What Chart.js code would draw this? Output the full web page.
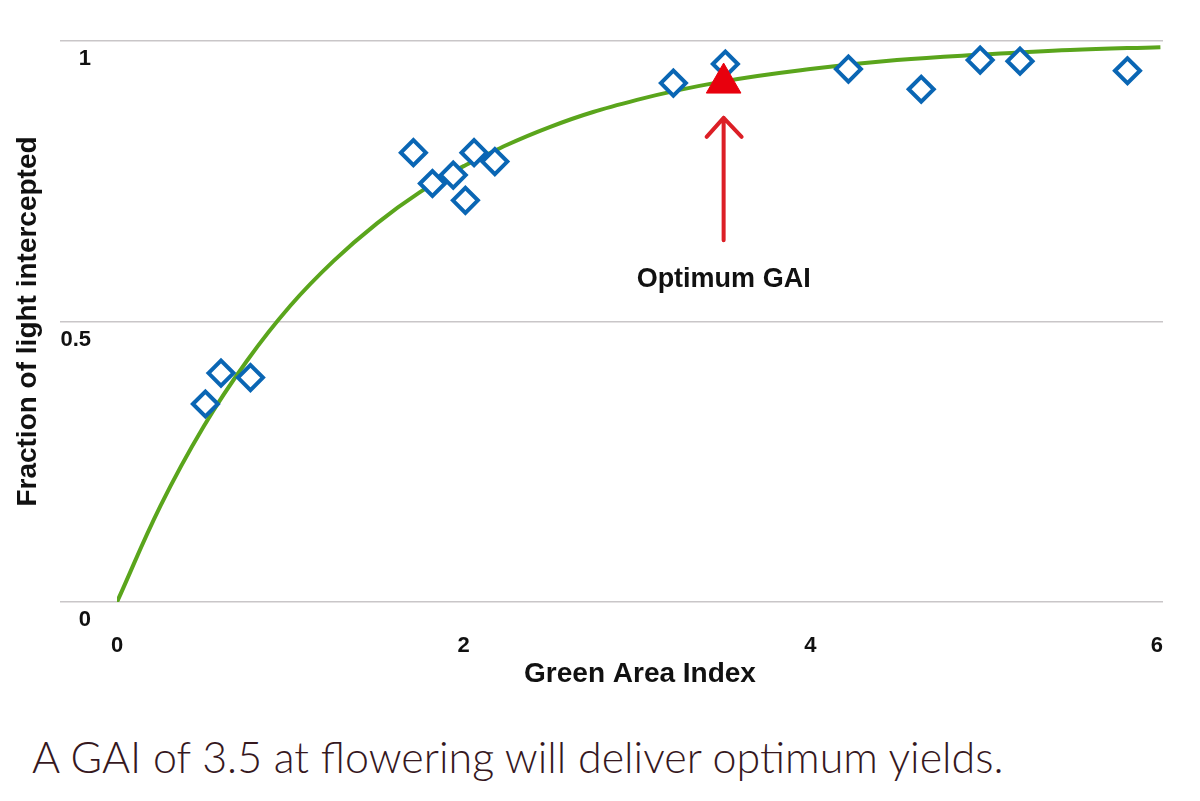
<!DOCTYPE html>
<html>
<head>
<meta charset="utf-8">
<script src="https://cdn.jsdelivr.net/npm/chart.js@4/dist/chart.umd.min.js"></script>
<style>
  html, body { margin: 0; padding: 0; background: #fff; }
  #wrap { position: relative; width: 1200px; height: 801px; overflow: hidden; }
  #box { position: absolute; left: 0; top: 0; width: 1200px; height: 720px; }
  #caption {
    position: absolute; left: 32px; top: 735px;
    font-family: Lato, "Open Sans", sans-serif; font-weight: 300;
    font-size: 43px; line-height: 43px; color: #36181e; white-space: nowrap;
  }
</style>
</head>
<body>
<div id="wrap">
  <div id="box"><canvas id="chart"></canvas></div>
  <div id="caption">A GAI of 3.5 at flowering will deliver optimum yields.</div>
</div>
<script>
// fitted curve
const curveX = [0, 0.25, 0.5, 0.75, 1, 1.25, 1.5, 1.75, 2, 2.5, 3, 3.5, 4, 4.5, 5, 5.5, 6.02];
const curveY = [0, 0.171, 0.313, 0.43, 0.528, 0.608, 0.675, 0.731, 0.777, 0.847, 0.895, 0.928, 0.95, 0.966, 0.976, 0.984, 0.989];

// measured points (diamonds)
const gaiX = [0.51, 0.60, 0.77, 1.71, 1.82, 1.94, 2.01, 2.06, 2.18, 3.21, 3.51, 4.22, 4.64, 4.98, 5.21, 5.83];
const fracY = [0.353, 0.408, 0.40, 0.801, 0.746, 0.761, 0.716, 0.801, 0.785, 0.925, 0.959, 0.950, 0.914, 0.966, 0.964, 0.947];

// optimum marker and arrow
const optX = 3.5;
const optY = 0.925;
const arrowFrom = 0.645;
const arrowTo = 0.863;
const optLabel = "Optimum GAI";
const optLabelY = 0.574;

const xTicks = [0, 2, 4, 6];
const yTicks = [0, 0.5, 1];

const tickFont = { family: "'Liberation Sans', Arial, sans-serif", size: 22, weight: "bold" };

const arrowPlugin = {
  id: "optArrow",
  afterDatasetsDraw(chart) {
    const ctx = chart.ctx;
    const xs = chart.scales.x, ys = chart.scales.y;
    const px = xs.getPixelForValue(optX);
    const y1 = ys.getPixelForValue(arrowFrom);
    const y2 = ys.getPixelForValue(arrowTo);
    ctx.save();
    ctx.strokeStyle = "#dc1f26";
    ctx.lineWidth = 4;
    ctx.lineCap = "round";
    ctx.lineJoin = "round";
    ctx.beginPath();
    ctx.moveTo(px, y1);
    ctx.lineTo(px, y2);
    ctx.moveTo(px - 17, y2 + 19);
    ctx.lineTo(px, y2);
    ctx.lineTo(px + 18, y2 + 19);
    ctx.stroke();
    ctx.fillStyle = "#111";
    ctx.font = "bold 27px 'Liberation Sans', Arial, sans-serif";
    ctx.textAlign = "center";
    ctx.textBaseline = "middle";
    ctx.fillText(optLabel, px, ys.getPixelForValue(optLabelY));
    ctx.restore();
  }
};

new Chart(document.getElementById("chart").getContext("2d"), {
  type: "scatter",
  data: {
    datasets: [
      {
        label: "Optimum",
        data: [{ x: optX, y: optY }],
        pointStyle: "triangle",
        pointRadius: 20,
        pointBackgroundColor: "#e8000d",
        pointBorderColor: "#e8000d",
        pointBorderWidth: 1,
        order: 0
      },
      {
        label: "Measured",
        data: gaiX.map((x, i) => ({ x: x, y: fracY[i] })),
        pointStyle: "rectRot",
        pointRadius: 12.5,
        pointBackgroundColor: "#ffffff",
        pointBorderColor: "#0a66b4",
        pointBorderWidth: 4,
        order: 1
      },
      {
        label: "Fit",
        data: curveX.map((x, i) => ({ x: x, y: curveY[i] })),
        showLine: true,
        borderColor: "#5aa51c",
        borderWidth: 4,
        pointRadius: 0,
        tension: 0.4,
        order: 2
      }
    ]
  },
  options: {
    responsive: true,
    maintainAspectRatio: false,
    animation: false,
    layout: { padding: { top: 41, right: 37, bottom: 0, left: 0 } },
    plugins: {
      legend: { display: false },
      tooltip: { enabled: false }
    },
    elements: { point: { hoverRadius: 0 } },
    scales: {
      x: {
        type: "linear",
        min: 0,
        max: 6.035,
        afterBuildTicks: function(scale) {
          scale.ticks = xTicks.map(v => ({ value: v }));
        },
        afterFit: function(scale) { scale.height = 118; },
        grid: { display: false, drawTicks: false },
        border: { display: false },
        ticks: { font: tickFont, color: "#111", padding: 31, maxRotation: 0 },
        title: {
          display: true,
          text: "Green Area Index",
          color: "#111",
          font: { family: "'Liberation Sans', Arial, sans-serif", size: 28, weight: "bold" },
          padding: { top: 0, bottom: 29 }
        }
      },
      y: {
        type: "linear",
        min: 0,
        max: 1,
        afterBuildTicks: function(scale) {
          scale.ticks = yTicks.map(v => ({ value: v }));
        },
        afterFit: function(scale) { scale.width = 117; },
        grid: { color: "#c9c6c8", lineWidth: 1.5, drawTicks: true, tickLength: 57 },
        border: { display: false },
        ticks: {
          font: tickFont,
          color: "#111",
          padding: -31,
          labelOffset: 18,
          crossAlign: "near",
          callback: v => String(v)
        },
        title: {
          display: true,
          text: "Fraction of light intercepted",
          color: "#111",
          font: { family: "'Liberation Sans', Arial, sans-serif", size: 28, weight: "bold" },
          padding: { top: 11, bottom: 0 }
        }
      }
    }
  },
  plugins: [arrowPlugin]
});
</script>
</body>
</html>
